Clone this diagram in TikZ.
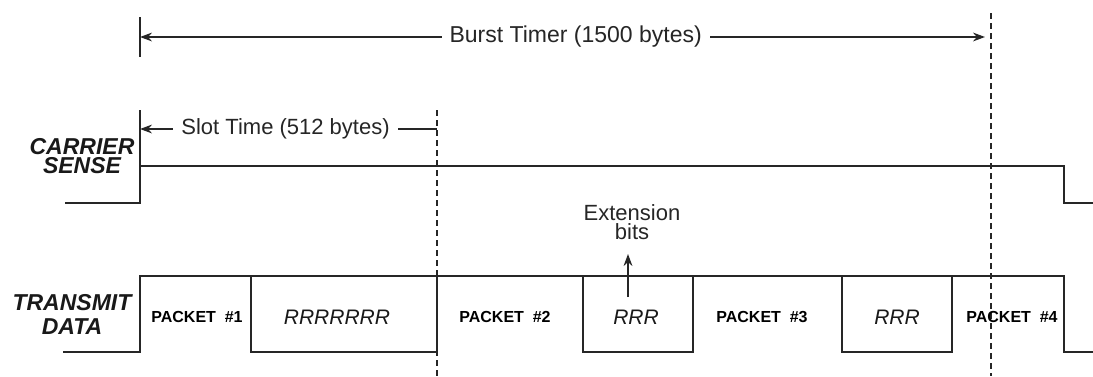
\documentclass[tikz,border=0pt]{standalone}
\usepackage{fontspec}
\setmainfont{Liberation Sans}
\usepackage{tikz}
\usetikzlibrary{arrows.meta}
\tikzstyle{signal}=[line width=1.1pt,draw=black!85]
\tikzstyle{limite}=[line width=0.9pt,draw=black!85,dash pattern=on 3pt off 2pt]
\tikzstyle{fleche}=[line width=0.8pt,draw=black!85,
-{Stealth[length=6pt,width=4.4pt]}]
\tikzstyle{duree}=[fill=white,inner xsep=4pt,inner ysep=1pt,
text=black!85,font=\fontsize{11}{12}\selectfont]
\tikzstyle{nomSignal}=[align=center,text=black!90,
font=\fontsize{11.5}{9.6}\selectfont\bfseries\itshape]
\tikzstyle{paquet}=[text=black,font=\fontsize{8}{9}\selectfont\bfseries]
\tikzstyle{bitsR}=[text=black!90,font=\fontsize{10.5}{12}\selectfont\itshape]

\begin{document}
\begin{tikzpicture}[x=0.5pt,y=-0.5pt]
\useasboundingbox (0,0) rectangle (1093,376);
% limites
\draw[signal] (140,17)--(140,57);
\draw[signal] (140,110)--(140,166);
\draw[limite] (437,110)--(437,376);
\draw[limite] (991,13)--(991,376);

% burst timer et slot time
\coordinate (BG) at (140,37);
\coordinate (BD) at (991,37);
\draw[fleche,{Stealth[length=6pt,width=4.4pt]}-{Stealth[length=6pt,width=4.4pt]},shorten >=3pt]
(BG)--(BD) node[duree,pos=0.512,font=\fontsize{11.5}{12}\selectfont] (BT) {Burst Timer (1500 bytes)};
\coordinate (SG) at (140,129);
\coordinate (SD) at (437,129);
\draw[fleche,{Stealth[length=6pt,width=4.4pt]}-]
(SG)--(SD) node[duree,pos=0.49] (ST) {Slot Time (512 bytes)};

% carrier sense
\node[nomSignal] (CS) at (82,156) {CARRIER\\SENSE};
\draw[signal] (65,203)--(140,203)--(140,166)--(1064,166)--(1064,203)--(1093,203);

% transmit data
\node[nomSignal,font=\fontsize{11.5}{12}\selectfont\bfseries\itshape] (TD) at (72,314) {TRANSMIT\\DATA};
\draw[signal] (63,352)--(140,352)--(140,276)--(1064,276)--(1064,352)--(1093,352);
\draw[signal] (251,276) rectangle (437,352);
\draw[signal] (583,276) rectangle (693,352);
\draw[signal] (842,276) rectangle (952,352);

\node[paquet] (P1) at (197,317) {PACKET~~\#1};
\node[paquet] (P2) at (505,317) {PACKET~~\#2};
\node[paquet] (P3) at (762,317) {PACKET~~\#3};
\node[paquet] (P4) at (1012,317) {PACKET~~\#4};
\node[bitsR] (R1) at (337,317) {RRRRRRR};
\node[bitsR] (R2) at (636,317) {RRR};
\node[bitsR] (R3) at (897,317) {RRR};

% extension bits
\node[duree,fill=none,align=center,font=\fontsize{11}{9.2}\selectfont] (EB) at (632,222) {Extension\\bits};
\coordinate (EP) at (628,297);
\coordinate (EF) at (628,254);
\draw[fleche] (EP)--(EF);
\end{tikzpicture}
\end{document}
